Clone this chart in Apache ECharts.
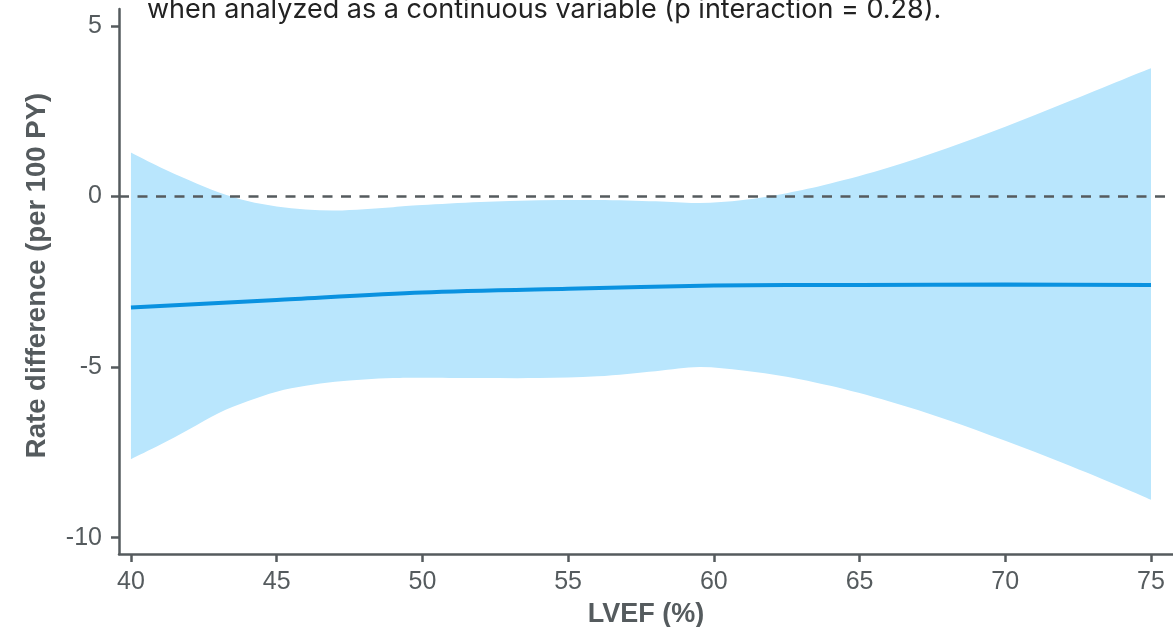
<!DOCTYPE html>
<html>
<head>
<meta charset="utf-8">
<title>Rate difference by LVEF</title>
<script src="https://cdn.jsdelivr.net/npm/echarts@6/dist/echarts.min.js"></script>
<style>
  html, body { margin: 0; padding: 0; background: #ffffff; }
  #chart { width: 1173px; height: 627px; }
</style>
</head>
<body>
<div id="chart"></div>
<script>
// LVEF grid (%) where the confidence band is evaluated
const lvef = [40, 41, 42, 43, 44, 45, 46, 47, 48, 49, 50, 52, 54, 56, 58, 59.5, 61, 62.5, 64, 66, 68, 70, 72, 74, 75];
// 95% CI bounds of the rate difference (per 100 PY)
const ciUpper = [1.29, 0.86, 0.48, 0.13, -0.13, -0.29, -0.38, -0.41, -0.37, -0.31, -0.25, -0.16, -0.11, -0.10, -0.14, -0.19, -0.10, 0.10, 0.38, 0.85, 1.42, 2.05, 2.73, 3.42, 3.76];
const ciLower = [-7.70, -7.28, -6.82, -6.35, -6.00, -5.72, -5.55, -5.43, -5.36, -5.32, -5.31, -5.32, -5.32, -5.27, -5.12, -5.00, -5.10, -5.28, -5.55, -6.00, -6.54, -7.16, -7.82, -8.52, -8.89];
// Point estimate of the rate difference
const estX = [40, 45, 50, 55, 60, 65, 70, 75];
const estimate = [-3.25, -3.03, -2.81, -2.70, -2.61, -2.59, -2.58, -2.59];
// Axis tick labels
const xTicks = [40, 45, 50, 55, 60, 65, 70, 75];
const yTicks = [-10, -5, 0, 5];
const subtitle = 'when analyzed as a continuous variable (p interaction = 0.28).';

const axisColor = '#555b5e';
const bandColor = '#b9e6fd';
const lineColor = '#0a92e0';
const baseFont = '"Liberation Sans", Arial, sans-serif';

const bandData = lvef.map((x, i) => [x, ciLower[i], ciUpper[i]]);
const estData = estX.map((x, i) => [x, estimate[i]]);

// Smooth path through pixel points (Catmull-Rom segments as cubic Beziers)
function curveThrough(pts, startCmd) {
  let d = startCmd + pts[0][0] + ',' + pts[0][1];
  for (let i = 0; i < pts.length - 1; i++) {
    const p0 = pts[Math.max(i - 1, 0)];
    const p1 = pts[i];
    const p2 = pts[i + 1];
    const p3 = pts[Math.min(i + 2, pts.length - 1)];
    const c1x = p1[0] + (p2[0] - p0[0]) / 6;
    const c1y = p1[1] + (p2[1] - p0[1]) / 6;
    const c2x = p2[0] - (p3[0] - p1[0]) / 6;
    const c2y = p2[1] - (p3[1] - p1[1]) / 6;
    d += ' C' + c1x + ',' + c1y + ' ' + c2x + ',' + c2y + ' ' + p2[0] + ',' + p2[1];
  }
  return d;
}

function renderBand(params, api) {
  if (params.dataIndex !== 0) return null;
  const upperPts = bandData.map(r => api.coord([r[0], r[2]]));
  const lowerPts = bandData.map(r => api.coord([r[0], r[1]])).reverse();
  const d = curveThrough(upperPts, 'M') + ' ' + curveThrough(lowerPts, 'L') + ' Z';
  return {
    type: 'path',
    shape: { pathData: d },
    style: { fill: bandColor, stroke: null }
  };
}

const chart = echarts.init(document.getElementById('chart'), null, { renderer: 'canvas' });

chart.setOption({
  animation: false,
  backgroundColor: '#ffffff',
  grid: { left: 119, right: 0, top: 9, bottom: 73, containLabel: false, outerBoundsMode: 'none' },
  graphic: [{
    type: 'text',
    left: 147,
    top: -4,
    silent: true,
    style: {
      text: subtitle,
      font: '27px Inter, "Noto Sans", sans-serif',
      fill: '#222222'
    }
  }],
  xAxis: {
    type: 'value',
    min: 39.59,
    max: 75.755,
    name: 'LVEF (%)',
    nameLocation: 'middle',
    nameGap: 47,
    nameTextStyle: { color: axisColor, fontFamily: baseFont, fontWeight: 'bold', fontSize: 27 },
    axisLine: { show: true, onZero: false, lineStyle: { color: axisColor, width: 2.5 } },
    axisTick: { show: true, length: 8, customValues: xTicks, lineStyle: { color: axisColor, width: 2.5 } },
    axisLabel: { customValues: xTicks, margin: 16, color: axisColor, fontFamily: baseFont, fontSize: 25 },
    splitLine: { show: false }
  },
  yAxis: {
    type: 'value',
    min: -10.48,
    max: 5.5,
    name: 'Rate difference (per 100 PY)',
    nameLocation: 'middle',
    nameGap: 68,
    nameTextStyle: { color: axisColor, fontFamily: baseFont, fontWeight: 'bold', fontSize: 27.5, padding: [0, 0, 0, 12] },
    axisLine: { show: true, onZero: false, lineStyle: { color: axisColor, width: 2.5 } },
    axisTick: { show: true, length: 8, customValues: yTicks, lineStyle: { color: axisColor, width: 2.5 } },
    axisLabel: { customValues: yTicks, margin: 17, color: axisColor, fontFamily: baseFont, fontSize: 25 },
    splitLine: { show: false }
  },
  series: [
    {
      name: 'ci',
      type: 'custom',
      data: bandData,
      encode: { x: 0, y: [1, 2] },
      renderItem: renderBand,
      silent: true,
      z: 1
    },
    {
      name: 'reference',
      type: 'line',
      data: [],
      silent: true,
      z: 3,
      markLine: {
        silent: true,
        symbol: 'none',
        label: { show: false },
        lineStyle: { color: axisColor, type: [10, 8.5], width: 2.5 },
        data: [{ yAxis: 0 }]
      }
    },
    {
      name: 'estimate',
      type: 'line',
      data: estData,
      smooth: 0.3,
      symbol: 'none',
      lineStyle: { color: lineColor, width: 4 },
      z: 4
    }
  ]
});
</script>
</body>
</html>
